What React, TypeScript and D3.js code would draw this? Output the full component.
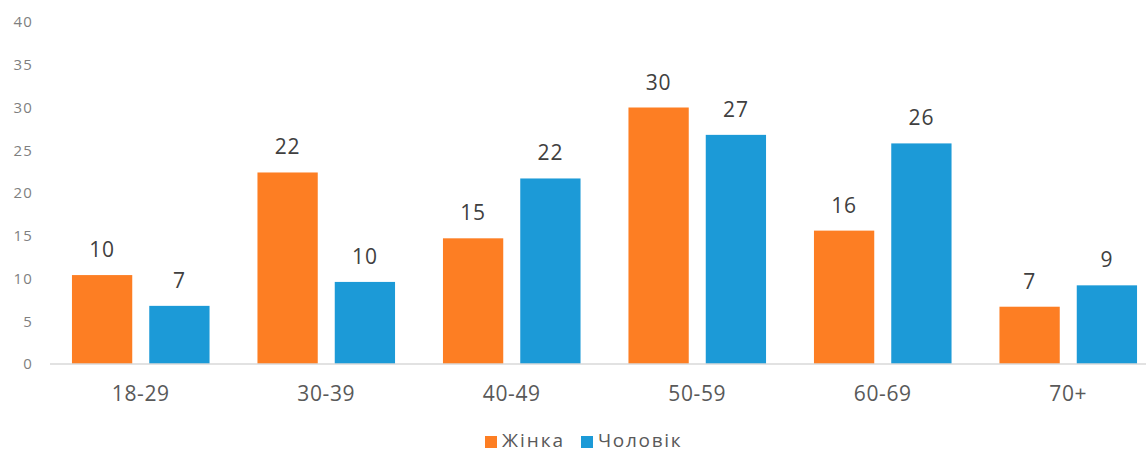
import React from "react";
import * as d3 from "d3";

const categories = ["18-29", "30-39", "40-49", "50-59", "60-69", "70+"];
const women = [10.4, 22.4, 14.7, 30.0, 15.6, 6.7];
const men = [6.8, 9.6, 21.7, 26.8, 25.8, 9.2];
const seriesNames = ["Жінка", "Чоловік"];
const seriesColors = ["#FD7E23", "#1C9AD7"];
const yTicks = [0, 5, 10, 15, 20, 25, 30, 35, 40];

const W = 1146;
const H = 452;

export default function App() {
  const x = d3.scaleBand<string>().domain(categories).range([48, 1161]).paddingInner(0).paddingOuter(0);
  const sub = d3.scaleBand<number>().domain([0, 1]).range([0, x.bandwidth()]).paddingInner(0.22).paddingOuter(0.31);
  const y = d3.scaleLinear().domain([0, 40]).range([364, 22]);
  const series = [women, men];
  const font = "'Open Sans', 'DejaVu Sans', sans-serif";

  return (
    <svg width={W} height={H} style={{ position: "absolute", left: 0, top: 0, background: "#fff" }}>
      {yTicks.map((t) => (
        <text key={t} x={33} y={y(t)} dy="0.36em" textAnchor="end" fontSize={15} fill="#7f7f7f" fontFamily={font} letterSpacing={1.2}>
          {t}
        </text>
      ))}
      {series.map((vals, si) =>
        vals.map((v, i) => {
          const bx = (x(categories[i]) as number) + (sub(si) as number);
          return (
            <g key={`${si}-${i}`}>
              <rect x={bx} y={y(v)} width={sub.bandwidth()} height={y(0) - y(v)} fill={seriesColors[si]} />
              <text x={bx + sub.bandwidth() / 2} y={y(v) - 18} textAnchor="middle" fontSize={21} fill="#404040" fontFamily={font} letterSpacing={0.8}>
                {d3.format(".0f")(v)}
              </text>
            </g>
          );
        })
      )}
      <line x1={50} x2={W} y1={y(0)} y2={y(0)} stroke="#d9d9d9" strokeWidth={1.5} />
      {categories.map((c) => (
        <text key={c} x={(x(c) as number) + x.bandwidth() / 2} y={393} dy="0.36em" textAnchor="middle" fontSize={21} fill="#595959" fontFamily={font} letterSpacing={0.6}>
          {c}
        </text>
      ))}
      <g>
        <rect x={485} y={436} width={12} height={12} fill={seriesColors[0]} />
        <text x={502} y={447} fontSize={19} fill="#595959" fontFamily={font} letterSpacing={2}>{seriesNames[0]}</text>
        <rect x={581} y={436} width={12} height={12} fill={seriesColors[1]} />
        <text x={598} y={447} fontSize={19} fill="#595959" fontFamily={font} letterSpacing={1.7}>{seriesNames[1]}</text>
      </g>
    </svg>
  );
}
